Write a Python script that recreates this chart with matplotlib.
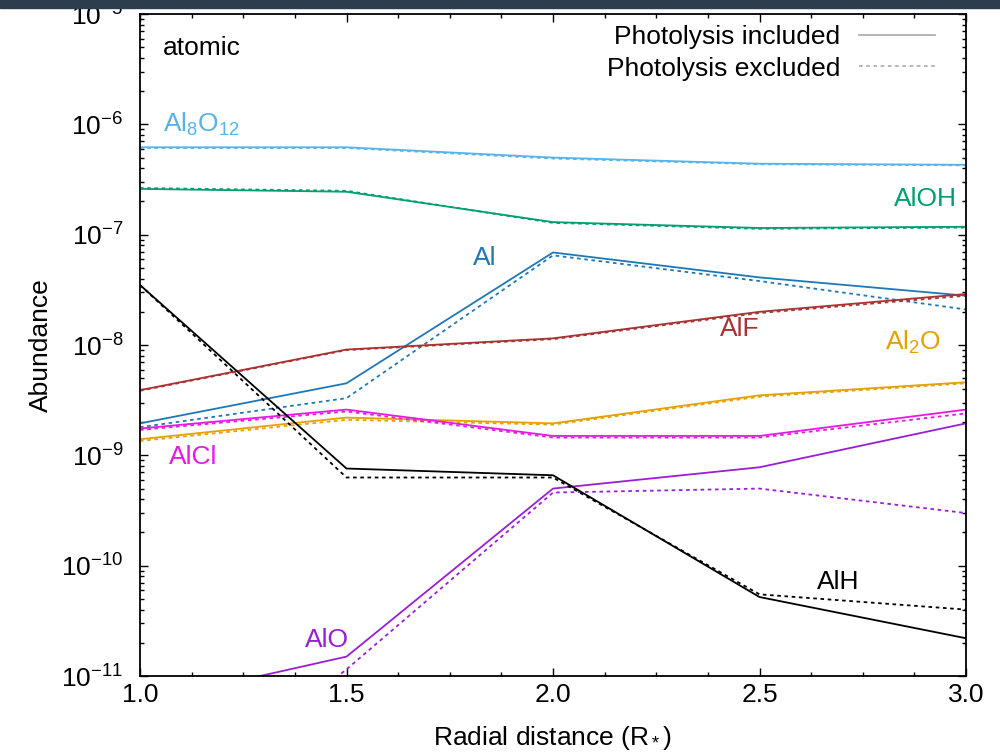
#Abundances of Al-bearing species vs radial distance, with and without photolysis
import matplotlib
matplotlib.use("Agg")
import matplotlib.pyplot as plt
from matplotlib.lines import Line2D
from matplotlib.patches import Rectangle
from matplotlib.ticker import LogLocator, LogFormatterMathtext, MultipleLocator, FixedLocator

plt.rcParams["font.family"] = ["Liberation Sans", "DejaVu Sans"]
plt.rcParams["mathtext.fontset"] = "custom"
plt.rcParams["mathtext.rm"] = "Liberation Sans"
plt.rcParams["mathtext.it"] = "Liberation Sans:italic"
plt.rcParams["mathtext.bf"] = "Liberation Sans:bold"

# 1. Data
radius = [1.0, 1.5, 2.0, 2.5, 3.0]

species = ["Al8O12", "AlOH", "Al", "AlF", "Al2O", "AlCl", "AlO", "AlH"]

al8o12_incl = [6.2e-7, 6.2e-7, 5.0e-7, 4.4e-7, 4.3e-7]
al8o12_excl = [6.1e-7, 6.1e-7, 4.9e-7, 4.35e-7, 4.25e-7]
aloh_incl = [2.6e-7, 2.45e-7, 1.3e-7, 1.15e-7, 1.18e-7]
aloh_excl = [2.65e-7, 2.5e-7, 1.28e-7, 1.13e-7, 1.16e-7]
al_incl = [1.95e-9, 4.5e-9, 6.9e-8, 4.1e-8, 2.8e-8]
al_excl = [1.8e-9, 3.3e-9, 6.5e-8, 3.8e-8, 2.1e-8]
alf_incl = [3.9e-9, 9.1e-9, 1.15e-8, 2.0e-8, 2.9e-8]
alf_excl = [3.85e-9, 9.0e-9, 1.13e-8, 1.95e-8, 2.8e-8]
al2o_incl = [1.4e-9, 2.2e-9, 1.95e-9, 3.5e-9, 4.6e-9]
al2o_excl = [1.35e-9, 2.1e-9, 1.9e-9, 3.4e-9, 4.5e-9]
alcl_incl = [1.75e-9, 2.6e-9, 1.5e-9, 1.5e-9, 2.6e-9]
alcl_excl = [1.7e-9, 2.5e-9, 1.45e-9, 1.45e-9, 2.4e-9]
alo_incl = [5.7e-12, 1.5e-11, 5.0e-10, 7.8e-10, 1.95e-9]
alo_excl = [3.6e-13, 1.15e-11, 4.6e-10, 5.0e-10, 3.0e-10]
alh_incl = [3.5e-8, 7.6e-10, 6.6e-10, 5.2e-11, 2.2e-11]
alh_excl = [3.5e-8, 6.3e-10, 6.3e-10, 5.5e-11, 4.0e-11]

included = [al8o12_incl, aloh_incl, al_incl, alf_incl, al2o_incl, alcl_incl, alo_incl, alh_incl]
excluded = [al8o12_excl, aloh_excl, al_excl, alf_excl, al2o_excl, alcl_excl, alo_excl, alh_excl]

colors = ["#56b4e9", "#009e73", "#1f78b4", "#a83232", "#e6a000", "#e619e6", "#9a1ed6", "#000000"]

# label text and where it sits (data coords)
label_text = [r"Al$_8$O$_{12}$", "AlOH", "Al", "AlF", r"Al$_2$O", "AlCl", "AlO", "AlH"]
label_x = [1.056, 2.903, 1.835, 2.453, 2.872, 1.128, 1.453, 2.69]
label_y = [1.0e-6, 2.1e-7, 6.2e-8, 1.4e-8, 1.05e-8, 9.6e-10, 2.1e-11, 7.1e-11]
label_ha = ["left", "center", "center", "center", "center", "center", "center", "center"]

y_decades = [1e-11, 1e-10, 1e-9, 1e-8, 1e-7, 1e-6, 1e-5]

fs = 19

# 2. Figure
fig = plt.figure(figsize=(10, 7.54), dpi=100)
ax = fig.add_axes([0.14, 0.1034, 0.826, 0.8780])

for inc, exc, c in zip(included, excluded, colors):
    ax.plot(radius, inc, color=c, lw=1.3, ls="-")
    ax.plot(radius, exc, color=c, lw=1.3, ls=(0, (2, 2)))

for t, x, y, ha, c in zip(label_text, label_x, label_y, label_ha, colors):
    ax.text(x, y, t, color=c, fontsize=fs, ha=ha, va="center")

ax.text(0.028, 0.949, "atomic", transform=ax.transAxes, fontsize=fs, ha="left", va="center")

ax.set_yscale("log")
ax.set_xlim(1.0, 3.0)
ax.set_ylim(1e-11, 1e-5)
ax.xaxis.set_major_locator(MultipleLocator(0.5))
ax.xaxis.set_minor_locator(MultipleLocator(0.125))
ax.xaxis.set_major_formatter(matplotlib.ticker.FormatStrFormatter("%.1f"))
ax.yaxis.set_major_locator(FixedLocator(y_decades))
ax.yaxis.set_minor_locator(LogLocator(base=10, subs=range(2, 10), numticks=20))
ax.yaxis.set_major_formatter(LogFormatterMathtext())

ax.tick_params(which="both", direction="in", top=True, right=True, width=1.0, labelsize=fs)
ax.tick_params(which="major", length=6)
ax.tick_params(which="minor", length=3)
ax.tick_params(axis="y", pad=12)
ax.tick_params(axis="x", pad=5)
for s in ax.spines.values():
    s.set_linewidth(1.3)

ax.set_xlabel(r"Radial distance (R$_*$)", fontsize=fs, labelpad=12)
ax.set_ylabel("Abundance", fontsize=fs, labelpad=6)

# legend: text right-aligned, sample line on the right
handles = [Line2D([], [], color="#b0b0b0", lw=1.3, ls="-"),
           Line2D([], [], color="#b0b0b0", lw=1.3, ls=(0, (2, 2)))]
leg = ax.legend(handles, ["Photolysis included", "Photolysis excluded"], loc="upper right",
                bbox_to_anchor=(0.963, 0.983), frameon=False, markerfirst=False,
                fontsize=fs, handlelength=2.9, handletextpad=0.7, labelspacing=0.28,
                borderpad=0, borderaxespad=0)
for t in leg.get_texts():
    t.set_ha("right")

# dark strip at the top (screenshot crop)
fig.patches.append(Rectangle((0, 1 - 8 / 754), 1, 8 / 754, transform=fig.transFigure,
                             color="#2e3d4d", zorder=10))

fig.savefig("out.png", dpi=100)
